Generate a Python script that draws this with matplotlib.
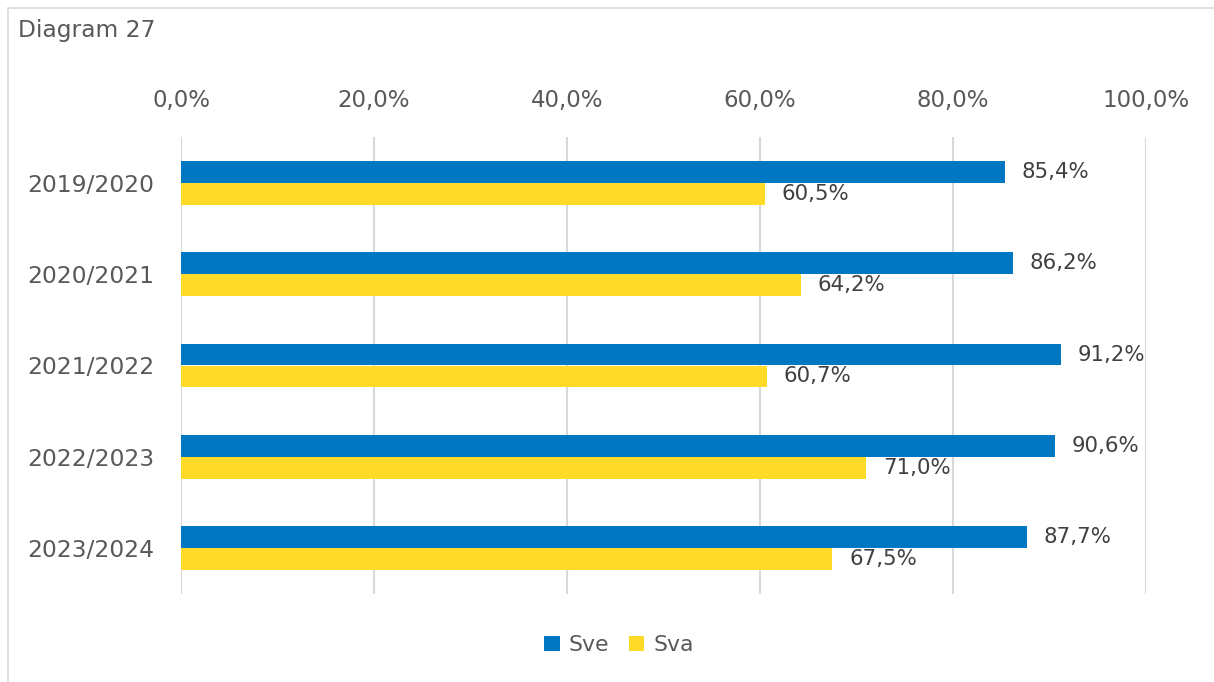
import matplotlib
matplotlib.use("Agg")
import matplotlib.pyplot as plt
from matplotlib.patches import Rectangle
import numpy as np

categories = ["2019/2020", "2020/2021", "2021/2022", "2022/2023", "2023/2024"]
sve = [85.4, 86.2, 91.2, 90.6, 87.7]
sva = [60.5, 64.2, 60.7, 71.0, 67.5]
xticks = [0, 20, 40, 60, 80, 100]

BLUE = "#0077C2"
YELLOW = "#FFDA29"
TXT = "#595959"
LBL = "#404040"

plt.rcParams['font.family'] = ['DejaVu Sans']

fig = plt.figure(figsize=(12.14, 6.82), dpi=100)
ax = fig.add_axes([181/1214, 1-594/682, (1146-181)/1214, (594-137)/682])

y = np.arange(len(categories))
h = 0.24
ax.barh(y - h/2, sve, height=h, color=BLUE, label="Sve", zorder=3)
ax.barh(y + h/2, sva, height=h, color=YELLOW, label="Sva", zorder=3)

def fmt(v):
    return f"{v:.1f}%".replace(".", ",")

for yi, v in zip(y, sve):
    ax.annotate(fmt(v), (v, yi - h/2), xytext=(12, 0), textcoords="offset points",
                va="center", ha="left", fontsize=15.3, color=LBL)
for yi, v in zip(y, sva):
    ax.annotate(fmt(v), (v, yi + h/2), xytext=(12, 0), textcoords="offset points",
                va="center", ha="left", fontsize=15.3, color=LBL)

ax.set_xlim(0, 100)
ax.set_ylim(len(categories) - 0.5, -0.5)
ax.set_yticks(y)
ax.set_yticklabels(categories, fontsize=16.8, color=TXT)
for t in ax.get_yticklabels():
    t.set_y(t.get_position()[1])
ax.set_xticks(xticks)
ax.set_xticklabels([f"{t:.1f}%".replace(".", ",") for t in xticks], fontsize=16.5, color=TXT)
ax.xaxis.tick_top()
ax.tick_params(axis="x", length=0, pad=18)
ax.tick_params(axis="y", length=0, pad=19)
for s in ax.spines.values():
    s.set_visible(False)
ax.grid(axis="x", color="#D9D9D9", linewidth=1.5, zorder=0)
ax.set_axisbelow(True)

fig.text(18/1214, 1-31/682, "Diagram 27", fontsize=16.8, color=TXT, va="center", ha="left")

leg = fig.legend(loc="center", bbox_to_anchor=(619/1214, 1-645/682), ncol=2, frameon=False,
                 fontsize=15.8, handlelength=0.7, handleheight=0.7, handletextpad=0.4,
                 columnspacing=0.9, labelcolor=TXT)

fig.patches.append(Rectangle((8/1214, -0.01), 1.2, 1 - 8/682 + 0.01, transform=fig.transFigure,
                             fill=False, edgecolor="#D9D9D9", linewidth=1.2))

fig.savefig("out.png", dpi=100)
